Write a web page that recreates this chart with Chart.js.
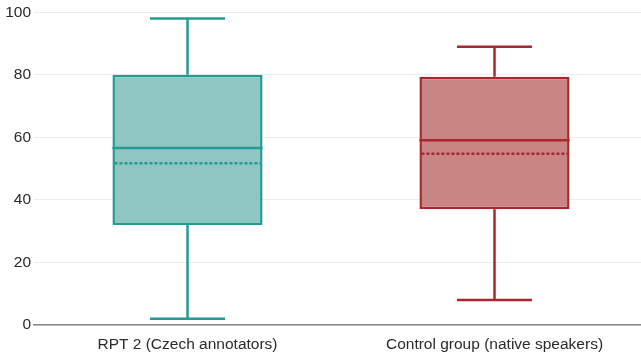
<!DOCTYPE html>
<html>
<head>
<meta charset="utf-8">
<script src="https://cdn.jsdelivr.net/npm/chart.js@4/dist/chart.umd.min.js"></script>
<style>
  html, body { margin: 0; padding: 0; background: #fff; overflow: hidden; }
  #wrap { width: 641px; height: 356px; overflow: hidden; }
</style>
</head>
<body>
<div id="wrap"><canvas id="c" width="648" height="356"></canvas></div>
<script>
// Groups and their five-number summaries plus mean
const categories = ['RPT 2 (Czech annotators)', 'Control group (native speakers)'];
const whiskerLow = [2, 8];
const quartile1 = [32, 37];
const medians = [56.6, 59.1];
const means = [51.7, 54.8];
const quartile3 = [80, 79.4];
const whiskerHigh = [98, 89];
const yTicks = [0, 20, 40, 60, 80, 100];

const strokeColors = ['#239b94', '#a8282e'];
const fillColors = ['#8fc5c2', '#c98584'];
const labelFont = { family: 'Liberation Sans, Arial, sans-serif', size: 15.5 };

// Whiskers, median and mean lines drawn on top of the boxes
const boxExtras = {
  id: 'boxExtras',
  afterDatasetsDraw(chart) {
    const ctx = chart.ctx;
    const y = chart.scales.y;
    const meta = chart.getDatasetMeta(0);
    meta.data.forEach((bar, i) => {
      const cx = bar.x;
      const half = bar.width / 2;
      const capHalf = bar.width / 4;
      const yHi = y.getPixelForValue(whiskerHigh[i]);
      const yLo = y.getPixelForValue(whiskerLow[i]);
      const yQ3 = y.getPixelForValue(quartile3[i]);
      const yQ1 = y.getPixelForValue(quartile1[i]);
      const yMed = y.getPixelForValue(medians[i]);
      const yMean = y.getPixelForValue(means[i]);
      ctx.save();
      ctx.strokeStyle = strokeColors[i];
      ctx.lineWidth = 2.5;
      ctx.lineCap = 'butt';
      ctx.beginPath();
      ctx.moveTo(cx, yQ3); ctx.lineTo(cx, yHi);
      ctx.moveTo(cx - capHalf, yHi); ctx.lineTo(cx + capHalf, yHi);
      ctx.moveTo(cx, yQ1); ctx.lineTo(cx, yLo);
      ctx.moveTo(cx - capHalf, yLo); ctx.lineTo(cx + capHalf, yLo);
      ctx.moveTo(cx - half, yMed); ctx.lineTo(cx + half, yMed);
      ctx.stroke();
      ctx.setLineDash([3, 2]);
      ctx.lineWidth = 2.5;
      ctx.beginPath();
      ctx.moveTo(cx - half + 2, yMean); ctx.lineTo(cx + half - 2, yMean);
      ctx.stroke();
      ctx.restore();
    });
  }
};

new Chart(document.getElementById('c'), {
  type: 'bar',
  data: {
    labels: categories,
    datasets: [{
      data: quartile1.map((q, i) => [q, quartile3[i]]),
      backgroundColor: fillColors,
      borderColor: strokeColors,
      borderWidth: 2.5,
      borderSkipped: false,
      barPercentage: 0.489,
      categoryPercentage: 1.0
    }]
  },
  options: {
    responsive: false,
    animation: false,
    layout: { padding: { top: 8, right: 0, left: 0, bottom: 0 } },
    plugins: { legend: { display: false }, tooltip: { enabled: false } },
    scales: {
      x: {
        afterFit(axis) { axis.height = 31; },
        grid: { display: false, drawTicks: false },
        border: { display: true, color: '#8a8a8a', width: 1.5 },
        ticks: { color: '#2a2a2a', font: labelFont, padding: 10 }
      },
      y: {
        min: 0, max: 100,
        afterFit(axis) { axis.width = 34; },
        afterBuildTicks(axis) { axis.ticks = yTicks.map(v => ({ value: v })); },
        grid: { color: '#ececec', lineWidth: 1, drawTicks: false },
        border: { display: false },
        ticks: { color: '#2a2a2a', font: labelFont, padding: 3 }
      }
    }
  },
  plugins: [boxExtras]
});
</script>
</body>
</html>
